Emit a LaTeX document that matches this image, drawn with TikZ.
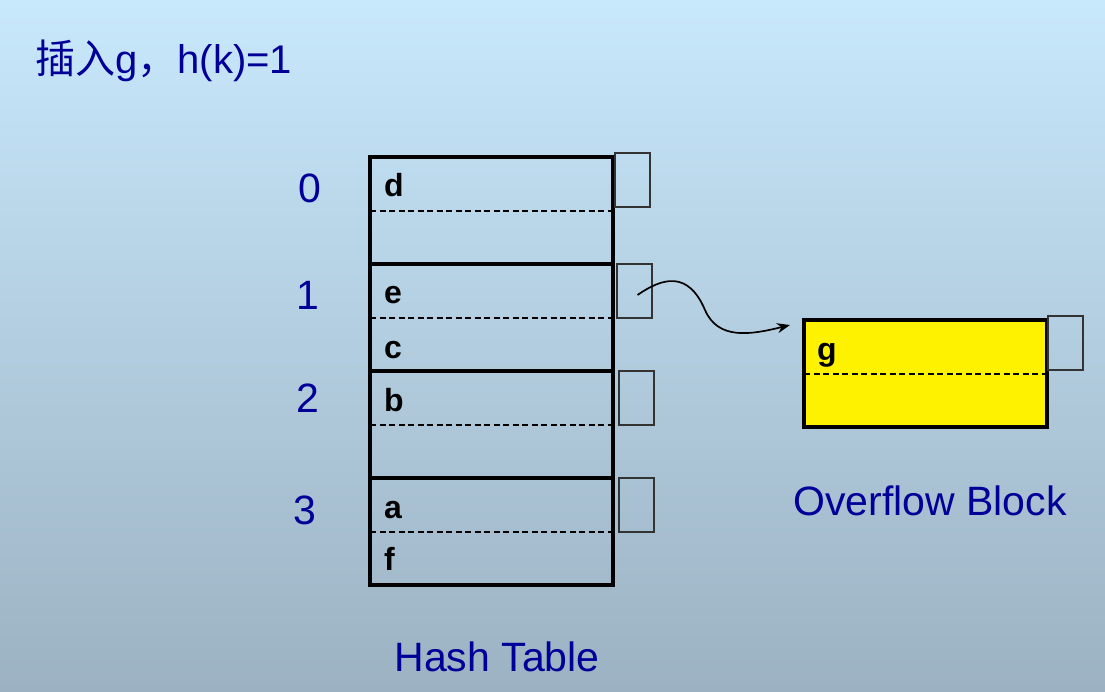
\documentclass[tikz,border=0pt]{standalone}
\usepackage{fontspec}
\setmainfont{Liberation Sans}
\newfontfamily\cjk{Noto Sans CJK SC}
\usepackage{xcolor}
\usepackage{tikz}
\usetikzlibrary{arrows.meta,positioning}
\definecolor{labblue}{RGB}{0,0,153}
\definecolor{bgtop}{RGB}{200,232,252}
\definecolor{bgbot}{RGB}{156,178,194}

\begin{document}
\begin{tikzpicture}[x=1pt,y=-1pt,
    bucket/.style={draw,line width=4.2pt,minimum width=243pt,minimum height=107pt,inner sep=0pt,outer sep=0pt,anchor=north west},
    ptr/.style={draw=black!80,line width=1.1pt,minimum width=35pt,minimum height=54pt,inner sep=0pt,outer sep=0pt,anchor=north west},
    slot/.style={line width=1.6pt,dash pattern=on 6pt off 3.5pt},
    key/.style={font=\fontsize{32}{32}\selectfont\bfseries,anchor=base west,inner sep=0pt},
    tlabel/.style={font=\fontsize{41}{44}\selectfont,text=labblue,inner sep=0pt},
  ]
  \fill[top color=bgtop,bottom color=bgbot] (0,0) rectangle (1105,692);

  \node[tlabel,anchor=base west,font=\fontsize{40}{44}\selectfont] (title) at (35,74) {{\cjk 插入}g{\cjk ，}h(k)=1};

  % hash table
  \foreach \i/\y/\dx/\dy in {0/157/2/4,1/264/4/0,2/371/6/0,3/478/6/0} {
    \node[bucket] (b\i) at (370,\y) {};
    \draw[slot] ([yshift=-54pt]b\i.north west) -- ([yshift=-54pt]b\i.north east);
    \node[ptr] (p\i) at ([shift={(\dx pt,\dy pt)}]b\i.north east) {};
  }
  \foreach \i/\x/\y in {0/310/188,1/308/295,2/308/398,3/305/510}
    \node[tlabel] (l\i) at (\x,\y) {\i};
  \foreach \k/\y in {d/197,e/304,c/358,b/411,a/518,f/570}
    \node[key] (k-\k) at (384,\y) {\k};
  \node[tlabel,anchor=base] (ht) at (497,671) {Hash Table};

  % overflow block
  \node[bucket,fill=yellow] (ovf) at (804,320) {};
  \draw[slot] ([yshift=-54pt]ovf.north west) -- ([yshift=-54pt]ovf.north east);
  \node[ptr] (pov) at (1048,316) {};
  \node[key] (k-g) at (817,360) {g};
  \node[tlabel,anchor=base west] (ob) at (793,515) {Overflow Block};

  \coordinate (tip) at (790,325);
  \draw[line width=1.7pt,-{Stealth[length=13pt,width=10pt]}] ([shift={(3pt,-4pt)}]p1.center)
    .. controls (662,278) and (688,270) .. (705,310)
    .. controls (718,340) and (750,335) .. (tip);
\end{tikzpicture}
\end{document}
